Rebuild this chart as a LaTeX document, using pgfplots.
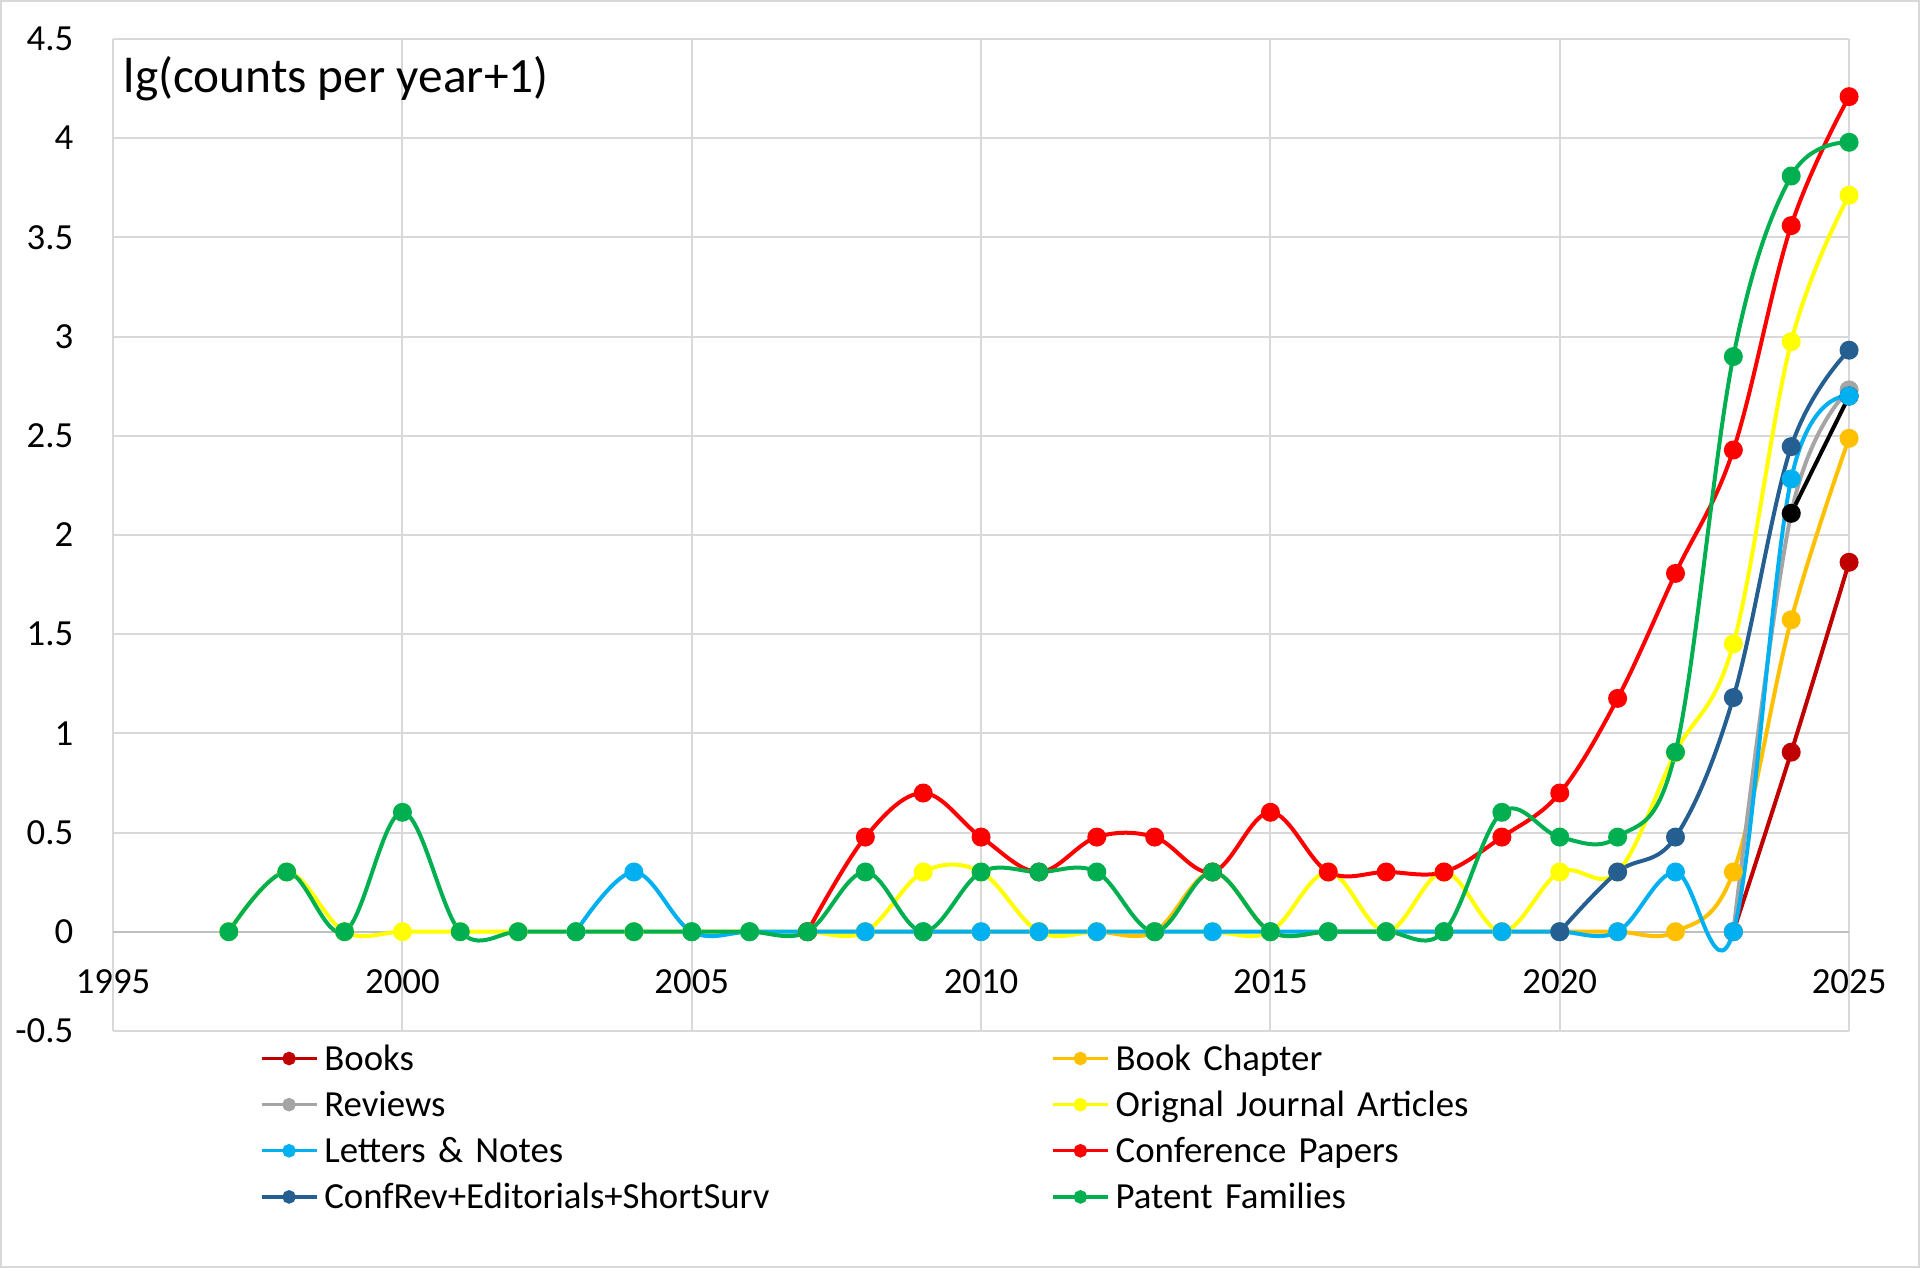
\documentclass[border=0pt]{standalone}
\usepackage{pgfplots}
\pgfplotsset{compat=1.18}
\usepackage{fontspec}
\setmainfont{Carlito}
\definecolor{cBooks}{HTML}{C00000}
\definecolor{cChap}{HTML}{FFC000}
\definecolor{cRev}{HTML}{A5A5A5}
\definecolor{cOrig}{HTML}{FFFF00}
\definecolor{cLett}{HTML}{00B0F0}
\definecolor{cConf}{HTML}{FF0000}
\definecolor{cConfRev}{HTML}{255E91}
\definecolor{cPat}{HTML}{00B050}
\definecolor{gridc}{HTML}{D9D9D9}
\definecolor{zeroc}{HTML}{BFBFBF}
\begin{document}
\begin{tikzpicture}
\useasboundingbox (0,0) rectangle (720pt,475.5pt);
\draw[gridc, line width=0.75pt] (0.4pt,0.4pt) rectangle (719.6pt,475.1pt);
\begin{axis}[
  at={(42.4pt,88.9pt)}, anchor=south west,
  scale only axis, width=651pt, height=372pt,
  xmin=1995, xmax=2025, ymin=-0.5, ymax=4.5,
  xtick={1995,2000,2005,2010,2015,2020,2025},
  ytick={-0.5,0,0.5,1,1.5,2,2.5,3,3.5,4,4.5},
  grid=major, major grid style={draw=gridc, line width=0.75pt},
  axis line style={draw=none}, major tick length=0pt,
  clip=false,
  /pgf/number format/assume math mode=true,
  tick label style={font=\fontsize{13.8}{16}\selectfont},
  xticklabel style={/pgf/number format/1000 sep={}, anchor=north, inner sep=0pt, yshift=23.2pt},
  yticklabel style={anchor=east, inner sep=0pt, xshift=-14.7pt, /pgf/number format/fixed, /pgf/number format/precision=1},
  every axis plot/.append style={line width=1.5pt, mark=*, mark size=2.8pt, smooth, /tikz/tension=0.6},
  legend columns=2,
  legend cell align=left,
  legend image code/.code={\draw[mark repeat=2, mark phase=2, #1, line width=1.25pt, mark size=1.9pt] plot coordinates {(0pt,0pt) (10.3pt,0pt) (20.6pt,0pt)};},
  legend style={at={(0.0843,0)}, anchor=north west, yshift=-1.5pt, draw=none, fill=none, inner sep=0pt,
    font=\fontsize{13.8}{16}\selectfont,
    nodes={inner xsep=2.3pt, inner ysep=0pt, text width=270.3pt, text height=13.1pt, text depth=4.2pt, align=left},
    /tikz/column sep=0pt, /tikz/row sep=0pt},
]
\draw[zeroc, line width=0.9pt] (axis cs:1995,0) -- (axis cs:2025,0);
% Books
\addplot[color=cBooks, mark options={solid, fill=cBooks, draw=cBooks}] coordinates {
(2023,0) (2024,0.905) (2025,1.862)};
\addlegendentry{Books}
% Book Chapter
\addplot[color=cChap, mark options={solid, fill=cChap, draw=cChap}] coordinates {
(2007,0) (2008,0) (2009,0) (2010,0) (2011,0) (2012,0) (2013,0) (2014,0.301) (2015,0) (2016,0)
(2017,0) (2018,0) (2019,0) (2020,0) (2021,0) (2022,0) (2023,0.301) (2024,1.572) (2025,2.487)};
\addlegendentry{Book Chapter}
% Reviews
\addplot[color=cRev, mark options={solid, fill=cRev, draw=cRev}] coordinates {
(2023,0) (2024,2.109) (2025,2.731)};
\addlegendentry{Reviews}
% unlabelled black series
\addplot[color=black, mark options={solid, fill=black, draw=black}, forget plot] coordinates {
(2024,2.109) (2025,2.70)};
% Orignal Journal Articles
\addplot[color=cOrig, mark options={solid, fill=cOrig, draw=cOrig}] coordinates {
(1997,0) (1998,0.301) (1999,0) (2000,0) (2001,0) (2002,0) (2003,0) (2004,0) (2005,0) (2006,0)
(2007,0) (2008,0) (2009,0.301) (2010,0.301) (2011,0) (2012,0) (2013,0) (2014,0) (2015,0) (2016,0.301)
(2017,0) (2018,0.301) (2019,0) (2020,0.301) (2021,0.301) (2022,0.903) (2023,1.451) (2024,2.974) (2025,3.712)};
\addlegendentry{Orignal Journal Articles}
% Letters & Notes
\addplot[color=cLett, mark options={solid, fill=cLett, draw=cLett}] coordinates {
(2003,0) (2004,0.301) (2005,0) (2006,0) (2007,0) (2008,0) (2009,0) (2010,0) (2011,0) (2012,0)
(2013,0) (2014,0) (2015,0) (2016,0) (2017,0) (2018,0) (2019,0) (2020,0) (2021,0) (2022,0.301)
(2023,0) (2024,2.282) (2025,2.70)};
\addlegendentry{Letters \& Notes}
% Conference Papers
\addplot[color=cConf, mark options={solid, fill=cConf, draw=cConf}] coordinates {
(2007,0) (2008,0.477) (2009,0.699) (2010,0.477) (2011,0.301) (2012,0.477) (2013,0.477) (2014,0.301)
(2015,0.602) (2016,0.301) (2017,0.301) (2018,0.301) (2019,0.477) (2020,0.699) (2021,1.176)
(2022,1.806) (2023,2.428) (2024,3.559) (2025,4.209)};
\addlegendentry{Conference Papers}
% ConfRev+Editorials+ShortSurv
\addplot[color=cConfRev, mark options={solid, fill=cConfRev, draw=cConfRev}] coordinates {
(2020,0) (2021,0.301) (2022,0.477) (2023,1.18) (2024,2.445) (2025,2.931)};
\addlegendentry{ConfRev+Editorials+ShortSurv}
% Patent Families
\addplot[color=cPat, mark options={solid, fill=cPat, draw=cPat}] coordinates {
(1997,0) (1998,0.301) (1999,0) (2000,0.602) (2001,0) (2002,0) (2003,0) (2004,0) (2005,0) (2006,0)
(2007,0) (2008,0.301) (2009,0) (2010,0.301) (2011,0.301) (2012,0.301) (2013,0) (2014,0.301) (2015,0)
(2016,0) (2017,0) (2018,0) (2019,0.602) (2020,0.477) (2021,0.477) (2022,0.905) (2023,2.899)
(2024,3.809) (2025,3.979)};
\addlegendentry{Patent Families}
\node[anchor=base west, inner sep=0pt, xshift=3.8pt, font=\fontsize{18.5}{22}\selectfont] at (axis cs:1995,4.228) {lg(counts per year+1)};
\end{axis}
\end{tikzpicture}
\end{document}
